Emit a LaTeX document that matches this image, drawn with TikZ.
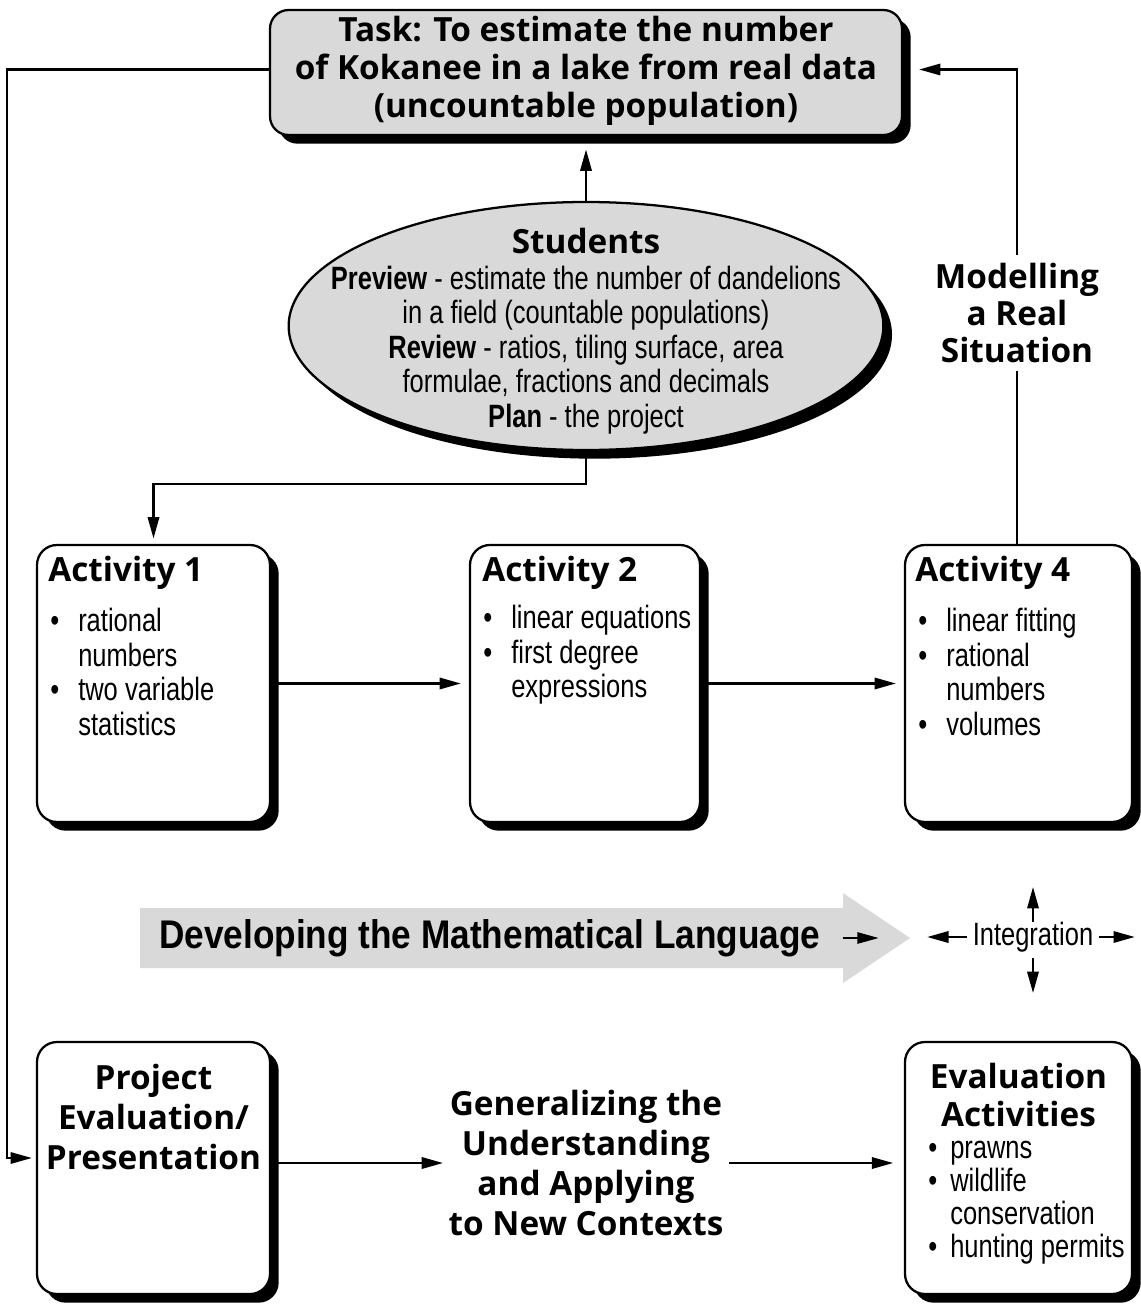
\documentclass[tikz,border=0pt]{standalone}
\usepackage{fontspec}
\setmainfont{Liberation Sans}
\newfontfamily\hfont{Open Sans}
\newfontfamily\cfont[FakeStretch=0.79]{Liberation Sans}
\newfontfamily\dfont[FakeStretch=0.88]{Liberation Sans}
\usetikzlibrary{shapes.geometric,arrows.meta,shadows,calc}
\definecolor{lgray}{RGB}{217,217,217}
\newcommand\bul{\makebox[21pt][l]{•}}
\newcommand\ind{\hspace*{21pt}}
\newcommand\ebul{\makebox[16.5pt][l]{•}}
\newcommand\eind{\hspace*{16.5pt}}
\tikzset{
  shbox/.style={draw, line width=1.7pt, rounded corners=15pt, fill=white, inner sep=0pt,
    drop shadow={shadow xshift=6.5pt, shadow yshift=-6.5pt, fill=black, opacity=1}},
  arr/.style={line width=1.7pt, -{Triangle[length=16pt,width=8.5pt]}},
  ln/.style={line width=1.7pt},
  btxt/.style={font=\hfont\bfseries\fontsize{25}{28.5}\selectfont, align=center, inner sep=0pt},
  ctxt/.style={font=\cfont\fontsize{24.2}{25.9}\selectfont, inner sep=0pt},
}
\begin{document}
\begin{tikzpicture}[x=0.75pt,y=-0.75pt]
\useasboundingbox (0,0) rectangle (1140,1309);
\fill[white] (0,0) rectangle (1140,1309);

% gray arrow
\fill[lgray] (140,908) -- (843,908) -- (843,893) -- (910,938) -- (843,983) -- (843,968) -- (140,968) -- cycle;

% boxes
\node[shbox, fill=lgray, rounded corners=14pt, minimum width=474pt, minimum height=93.75pt] (task) at (586,72.5) {};
\node[ellipse, draw, fill=lgray, line width=1.7pt, inner sep=0pt, minimum width=446pt, minimum height=186pt,
  drop shadow={shadow xshift=6.5pt, shadow yshift=-6.5pt, fill=black, opacity=1}] (ell) at (586,326) {};
\node[shbox, minimum width=174.75pt, minimum height=207.75pt] (a1) at (153.5,683.5) {};
\node[shbox, minimum width=172.5pt, minimum height=207.75pt] (a2) at (585,683.5) {};
\node[shbox, minimum width=170.25pt, minimum height=207.75pt] (a4) at (1018.5,683.5) {};
\node[shbox, minimum width=174.75pt, minimum height=189pt] (proj) at (153.5,1168) {};
\node[shbox, minimum width=170.25pt, minimum height=189pt] (eval) at (1018.5,1168) {};

% texts
\node[btxt] (taskt) at (586,71) {Task: To estimate the number\\of Kokanee in a lake from real data\\(uncountable population)};
\node[btxt] (stu) at (586,241) {Students};
\node[ctxt, align=center] (stut) at (586,350) {{\bfseries Preview} - estimate the number of dandelions\\in a field (countable populations)\\{\bfseries Review} - ratios, tiling surface, area\\formulae, fractions and decimals\\{\bfseries Plan} - the project};

\node[btxt, anchor=west] (a1t) at (48,573) {Activity 1};
\node[btxt, anchor=west] (a2t) at (482,573) {Activity 2};
\node[btxt, anchor=west] (a4t) at (915,573) {Activity 4};
\node[ctxt, anchor=west, align=left] (a1l) at (50,672) {\bul rational\\\ind numbers\\\bul two variable\\\ind statistics};
\node[ctxt, anchor=west, align=left] (a2l) at (483,655) {\bul linear equations\\\bul first degree\\\ind expressions};
\node[ctxt, anchor=west, align=left] (a4l) at (918,672) {\bul linear fitting\\\bul rational\\\ind numbers\\\bul volumes};

\node[btxt, font=\hfont\bfseries\fontsize{25}{28}\selectfont, inner sep=6pt] (ml) at (1017,313) {Modelling\\a Real\\Situation};

\node[font=\dfont\bfseries\fontsize{30}{32}\selectfont, anchor=west, inner sep=0pt] (dev) at (159,938) {Developing the Mathematical Language};
\node[ctxt, inner sep=4pt] (integ) at (1033,937) {Integration};

\node[btxt, font=\hfont\bfseries\fontsize{25}{30}\selectfont] (projt) at (153.5,1117) {Project\\Evaluation/\\Presentation};
\node[btxt, font=\hfont\bfseries\fontsize{25}{30}\selectfont, inner sep=4pt] (gen) at (586,1163) {Generalizing the\\Understanding\\and Applying\\to New Contexts};
\node[btxt, font=\hfont\bfseries\fontsize{25}{29}\selectfont] (evalt) at (1018.5,1095) {Evaluation\\Activities};
\node[ctxt, font=\cfont\fontsize{24.2}{24.75}\selectfont, anchor=west, align=left] (evall) at (928,1203) {\ebul prawns\\\ebul wildlife\\\eind conservation\\\ebul hunting permits};

% connectors
\draw[arr, shorten >=10pt] (ell.north) -- (task.south);
\draw[arr, shorten >=4pt] (ell.south) -- ++(0,33) -| (a1.north);
\draw[arr, shorten >=6pt] (a1.east) -- (a2.west);
\draw[arr, shorten >=6pt] (a2.east) -- (a4.west);
\draw[ln] (ml.south) -- (ml.south |- a4.north);
\draw[arr, shorten >=12pt] (ml.north) |- ($(task.east)+(0,-3)$);
\draw[arr, shorten >=3pt] ($(task.west)+(0,-3)$) -- ++(-262,0) |- ($(proj.west)+(0,-10)$);
\draw[arr] (proj.east |- gen.west) -- (gen.west);
\draw[arr, shorten >=8pt] (gen.east) -- (gen.east -| eval.west);
\draw[arr, line width=1.3pt] ($(dev.east)+(22,0)$) -- ++(36,0);
\draw[arr] (integ.west) -- ++(-40,0);
\draw[arr] (integ.east) -- ++(36,0);
\draw[arr] ($(integ.center)+(0,-15)$) -- ++(0,-35);
\draw[arr] ($(integ.center)+(0,21)$) -- ++(0,35);
\end{tikzpicture}
\end{document}
